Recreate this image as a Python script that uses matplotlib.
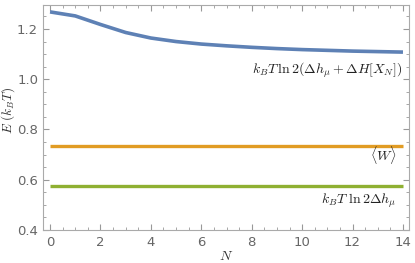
import numpy as np
import matplotlib
matplotlib.use("Agg")
from matplotlib import pyplot as plt
from matplotlib.ticker import MultipleLocator

plt.rcParams['mathtext.fontset'] = 'cm'

# data
N = [0, 1, 2, 3, 4, 5, 6, 7, 8, 9, 10, 11, 12, 13, 14]
E_bound = [1.268, 1.252, 1.218, 1.186, 1.164, 1.150, 1.140, 1.133, 1.127, 1.122, 1.118, 1.115, 1.112, 1.110, 1.108]
W_avg = 0.736
E_low = 0.576

blue = '#5E81B5'
orange = '#E19C24'
green = '#8FB032'
gray = '#666666'

fig = plt.figure(figsize=(4.15, 2.63), dpi=100)
ax = fig.add_axes([0.1036, 0.1255, 0.882, 0.856])

ax.plot(N, E_bound, color=blue, lw=2.6, solid_capstyle='butt')
ax.plot([N[0], N[-1]], [W_avg, W_avg], color=orange, lw=2.4, solid_capstyle='butt')
ax.plot([N[0], N[-1]], [E_low, E_low], color=green, lw=2.4, solid_capstyle='butt')

ax.set_xlim(-0.28, 14.24)
ax.set_ylim(0.4, 1.296)

ax.xaxis.set_major_locator(MultipleLocator(2))
ax.xaxis.set_minor_locator(MultipleLocator(0.5))
ax.yaxis.set_major_locator(MultipleLocator(0.2))
ax.yaxis.set_minor_locator(MultipleLocator(0.05))
ax.set_yticks([0.4, 0.6, 0.8, 1.0, 1.2])
ax.set_yticklabels(['0.4', '0.6', '0.8', '1.0', '1.2'])

ax.tick_params(which='both', direction='in', top=True, right=True, colors='#999999',
               labelcolor=gray, labelsize=9.5)
ax.tick_params(which='major', length=4, width=0.8)
ax.tick_params(which='minor', length=2, width=0.6)
ax.tick_params(axis='x', which='major', pad=4)
ax.tick_params(top=True, right=True, labeltop=False, labelright=False)
for s in ax.spines.values():
    s.set_color('#aaaaaa')
    s.set_linewidth(0.8)

ax.set_xlabel(r'$N$', fontsize=10, color='#333333', labelpad=0)
ax.set_ylabel(r'$E\ (k_BT)$', fontsize=9.5, color='#333333', labelpad=1)
ax.yaxis.set_label_coords(-0.07, 0.53)

ax.text(14, 1.036, r'$k_BT\,\ln 2(\Delta h_\mu + \Delta H[X_N])$', ha='right', va='center',
        fontsize=10, color='#222222')
ax.text(13.77, 0.70, r'$\langle W\rangle$', ha='right', va='center', fontsize=10, color='#222222')
ax.text(13.75, 0.517, r'$k_BT\ \ln 2\Delta h_\mu$', ha='right', va='center', fontsize=10, color='#222222')

fig.savefig('out.png', dpi=100)
